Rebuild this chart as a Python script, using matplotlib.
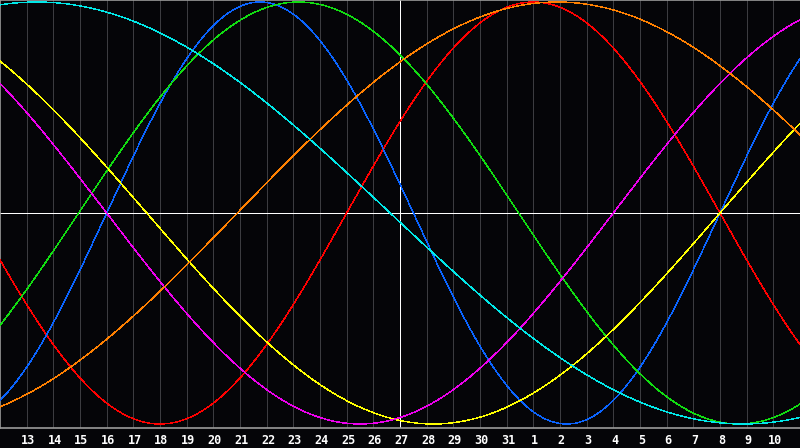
import numpy as np
import matplotlib
matplotlib.use("Agg")
import matplotlib.pyplot as plt

# day labels along the bottom (gridline k = 1..29, left edge is the 12th)
day_labels = [str(d) for d in range(13, 32)] + [str(d) for d in range(1, 11)]
today_index = 15  # the 27th, white marker line

# cycles: length in days and the day (from the left edge) where each one peaks
cycle_colors = ["#ff0000", "#0a64ff", "#11dd11", "#ffff00", "#ee00ee", "#ff8000", "#00e8e8"]
cycle_periods = [28, 23, 33, 43, 38, 48, 53]
cycle_peaks = [20.0, 9.75, 11.2, -5.25, -5.5, 20.9, 1.38]

bg = "#050508"
n_days = len(day_labels) + 1

fig = plt.figure(figsize=(8, 4.48), dpi=100, facecolor=bg)
ax = fig.add_axes([0, 20 / 448, 1, 428 / 448], facecolor=bg)

t = np.linspace(0, n_days, 1201)

# day grid
for k in range(1, n_days):
    ax.axvline(k, color="#3c3c40", lw=0.5, zorder=1, antialiased=False)

ax.axhline(0, color="white", lw=0.6, zorder=2, antialiased=False)
ax.axvline(today_index, color="white", lw=0.6, zorder=2, antialiased=False)

for col, per, pk in zip(cycle_colors, cycle_periods, cycle_peaks):
    ax.plot(t, np.cos(2 * np.pi * (t - pk) / per), color=col, lw=0.3,
            zorder=3, antialiased=False)

ax.set_xlim(0, n_days)
ax.set_ylim(-215 / 211, 213 / 211)

for s in ["left", "top", "bottom"]:
    ax.spines[s].set_color("#9a9a9a")
    ax.spines[s].set_linewidth(1.2)
ax.spines["right"].set_visible(False)

ax.set_yticks([])
ax.set_xticks(np.arange(1, n_days) + 0.05)
ax.set_xticklabels(day_labels, color="white", fontsize=8.5,
                   fontweight="bold", family="DejaVu Sans Mono")
ax.tick_params(axis="x", length=0, pad=4)

fig.savefig("out.png", dpi=100, facecolor=bg)
